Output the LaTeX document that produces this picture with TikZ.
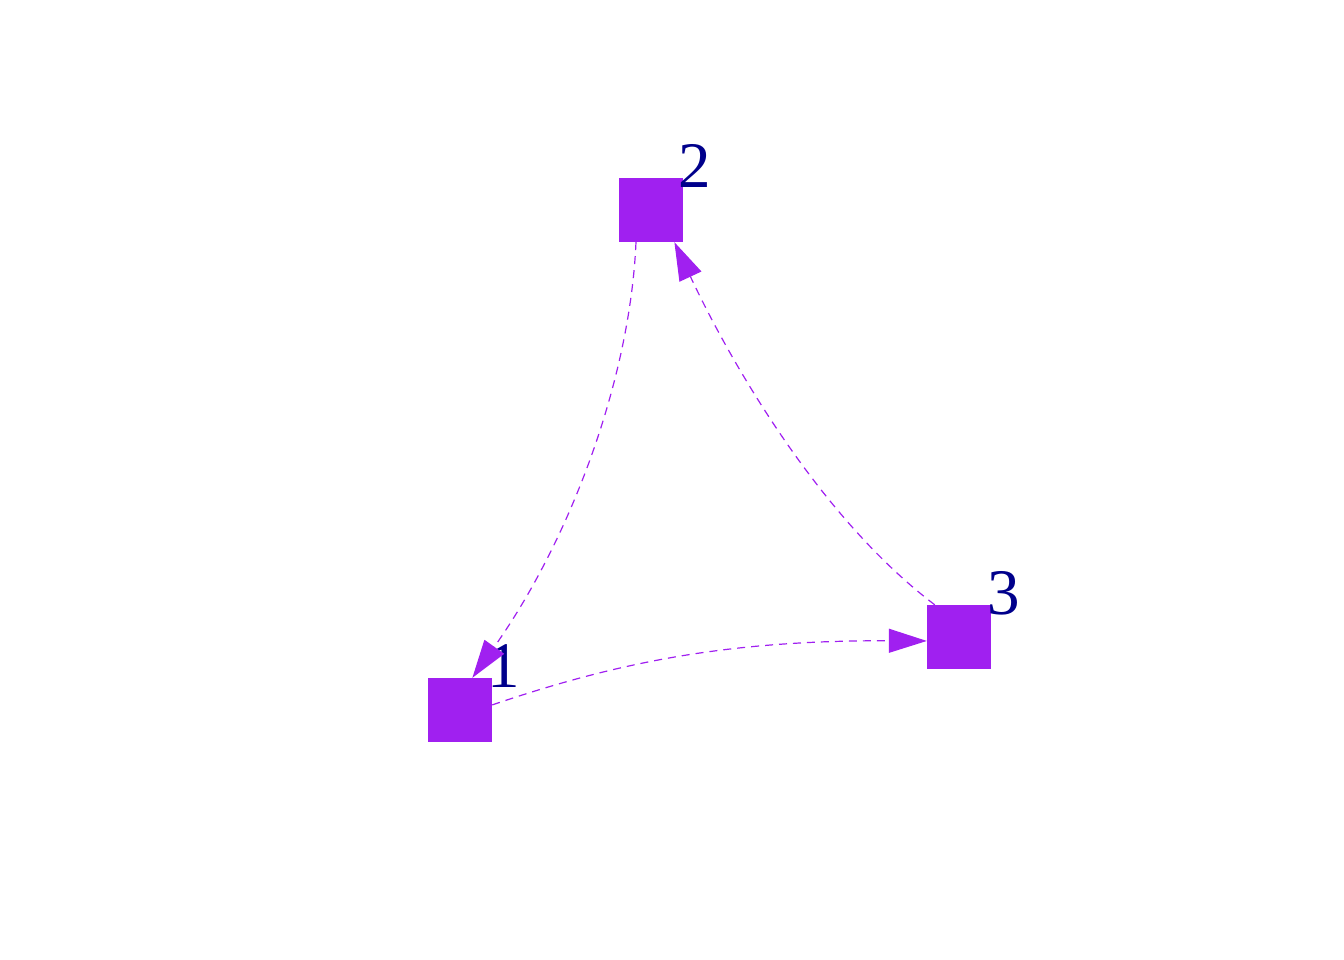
\documentclass[tikz,border=0pt]{standalone}
\usepackage{fontspec}
\setmainfont{Liberation Serif}
\usetikzlibrary{arrows.meta}
\definecolor{vpurple}{HTML}{A020F0}
\definecolor{lblue}{HTML}{00008B}
\tikzset{
  vbox/.style={rectangle, fill=vpurple, draw=none, minimum size=64pt, inner sep=0pt},
  vlabel/.style={text=lblue, font=\fontsize{65}{65}\selectfont, inner sep=0pt},
  edge/.style={draw=vpurple, line width=1.2pt, dash pattern=on 8pt off 6pt,
    -{Triangle[length=38pt,width=24pt]}}
}
\begin{document}
\begin{tikzpicture}[x=1pt,y=-1pt]
\useasboundingbox (0,0) rectangle (1344,960);
\node[vbox] (n1) at (460,710) {};
\node[vbox] (n2) at (651,210) {};
\node[vbox] (n3) at (959,637) {};
\node[vlabel] (l1) at (504,666) {1};
\node[vlabel] (l2) at (695,166) {2};
\node[vlabel] (l3) at (1004,593) {3};
\draw[edge] (n1.9) .. controls (610,665) and (720,640) .. (n3.187);
\draw[edge] (n2.-115) .. controls (630,380) and (570,540) .. (n1.69);
\draw[edge] (n3.127) .. controls (810,510) and (720,340) .. (n2.-54);
\end{tikzpicture}
\end{document}
